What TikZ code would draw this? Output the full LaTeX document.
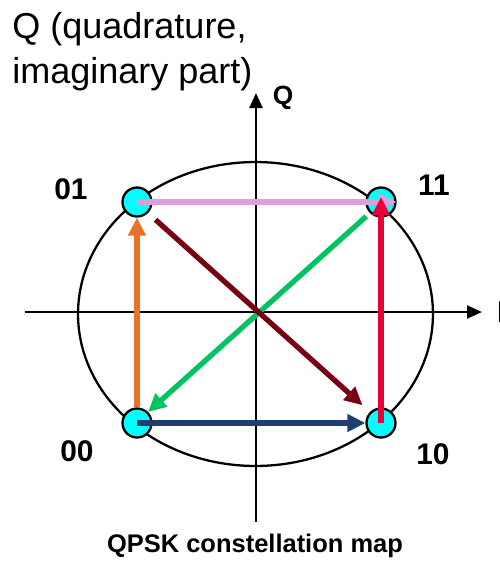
\documentclass[tikz,border=0pt]{standalone}
\usepackage{fontspec}
\setmainfont{Liberation Sans}
\usetikzlibrary{arrows.meta}
\definecolor{dotfill}{HTML}{00FFFF}
\definecolor{pinkarr}{HTML}{DDA0D6}
\definecolor{redarr}{HTML}{E8003A}
\definecolor{orangearr}{HTML}{E8722A}
\definecolor{greenarr}{HTML}{00C462}
\definecolor{darkredarr}{HTML}{780012}
\definecolor{bluearr}{HTML}{1F406E}
\tikzset{
  axisline/.style={-{Triangle[length=3mm, width=2.6mm]}, line width=1.4pt},
  symarrow/.style={-{Triangle[length=3.6mm, width=3.4mm]}, line width=3pt},
  symdot/.style={draw, circle, line width=1.3pt, fill=dotfill, minimum size=0.58cm, inner sep=0pt},
  bitlabel/.style={font=\fontsize{17}{20}\selectfont\bfseries},
  titletext/.style={font=\fontsize{20.5}{24}\selectfont, anchor=base west, inner sep=0pt}
}
\begin{document}
\begin{tikzpicture}[x=0.02cm, y=-0.02cm]
  \useasboundingbox[fill=white] (0,0) rectangle (500,566);
  % unit circle and axes
  \draw[line width=1.3pt] (255.5,314) ellipse [x radius=3.55cm, y radius=3.04cm];
  \coordinate (ibeg) at (25,312);
  \coordinate (iend) at (482,312);
  \coordinate (qbeg) at (256,522);
  \coordinate (qend) at (256,93);
  \draw[axisline] (ibeg) -- (iend);
  \draw[axisline] (qbeg) -- (qend);
  \node[bitlabel, anchor=west] (ilab) at (491,312) {I};
  \node[bitlabel, font=\fontsize{15}{18}\selectfont\bfseries] (qlab) at (283,98) {Q};
  \node[titletext] (title1) at (12,38) {Q (quadrature,};
  \node[titletext] (title2) at (12,83) {imaginary part)};
  % symbols
  \node[symdot] (p01) at (137,202) {};
  \node[symdot] (p11) at (381,202) {};
  \node[symdot] (p00) at (137,423) {};
  \node[symdot] (p10) at (381,423) {};
  \node[bitlabel] (l01) at (71,189) {01};
  \node[bitlabel] (l11) at (434,185) {11};
  \node[bitlabel] (l00) at (77,451) {00};
  \node[bitlabel] (l10) at (433,454) {10};
  % transitions
  \draw[symarrow, pinkarr] (p01.center) -- (p11.east);
  \draw[symarrow, redarr] (p10.center) -- ([yshift=0.1cm]p11.center);
  \draw[symarrow, orangearr] (p00.north) -- (p01.south);
  \draw[symarrow, bluearr] (p00.center) -- (p10.west);
  \draw[symarrow, greenarr, shorten <=0.1cm] (p11.south west) -- (p00.north east);
  \draw[symarrow, darkredarr, shorten <=0.2cm, shorten >=0.2cm] (p01.south east) -- (p10.north west);
  \node[bitlabel, font=\fontsize{14.5}{18}\selectfont\bfseries] (caption) at (255,546) {QPSK constellation map};
\end{tikzpicture}
\end{document}
